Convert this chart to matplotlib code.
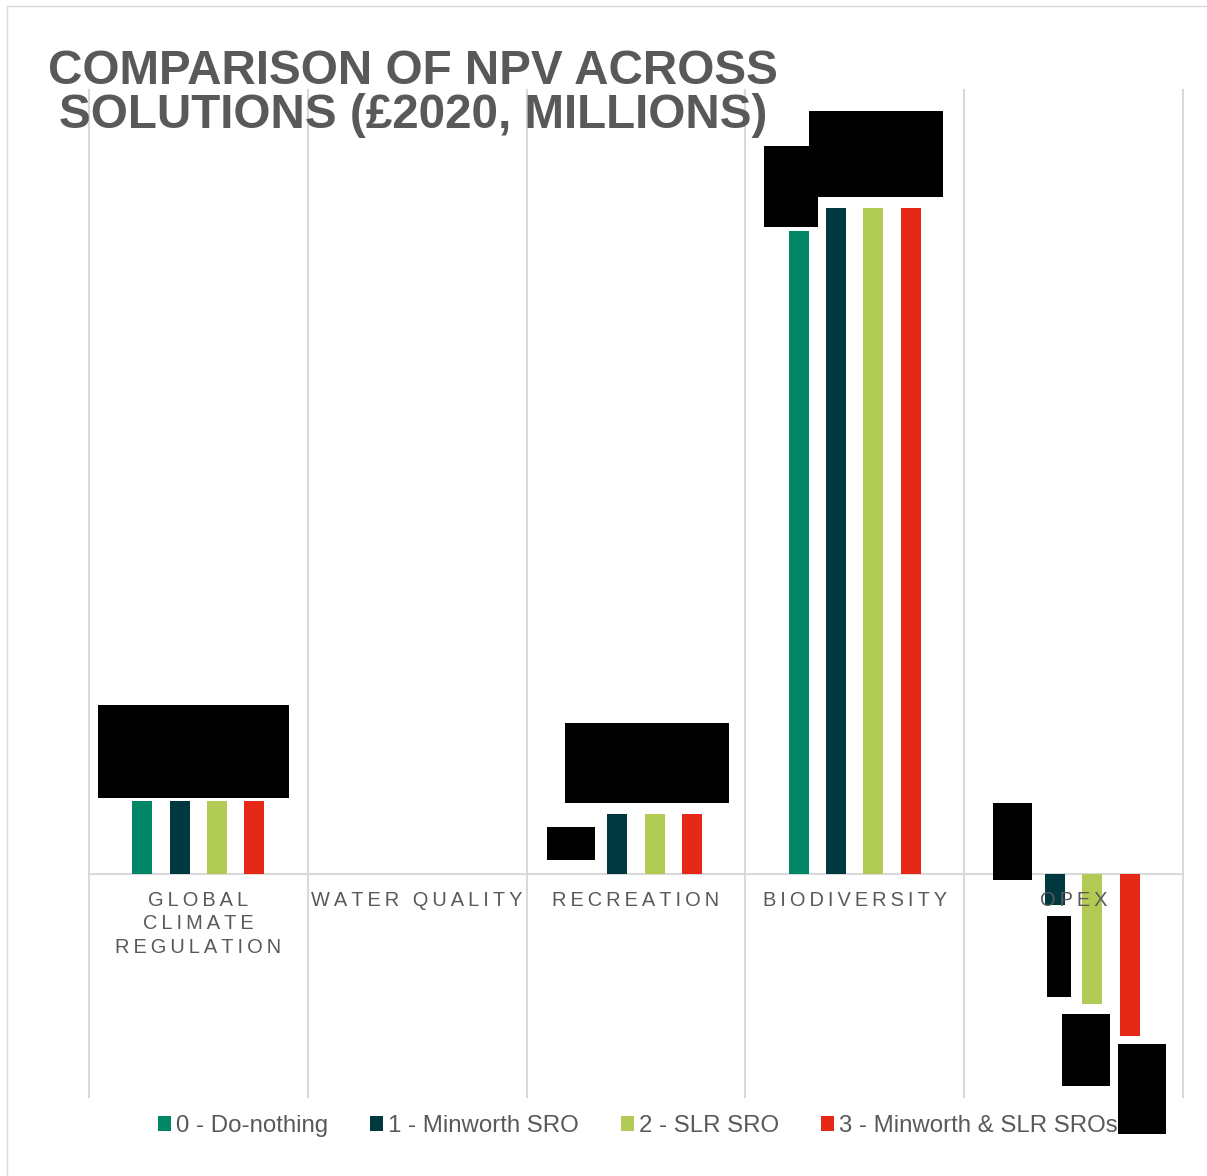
import matplotlib

matplotlib.use("Agg")
import matplotlib.pyplot as plt
import numpy as np
from matplotlib.lines import Line2D
from matplotlib.patches import Rectangle

plt.rcParams["font.family"] = ["Liberation Sans", "DejaVu Sans"]

# NPV by benefit/cost category (£2020, millions)
categories = ["GLOBAL\nCLIMATE\nREGULATION", "WATER QUALITY", "RECREATION", "BIODIVERSITY", "OPEX"]
series_names = ["0 - Do-nothing", "1 - Minworth SRO", "2 - SLR SRO", "3 - Minworth & SLR SROs"]
do_nothing = [7.3, 0.0, 0.0, 64.3, 0.0]
minworth = [7.3, 0.0, 6.0, 66.6, -3.1]
slr = [7.3, 0.0, 6.0, 66.6, -13.0]
minworth_slr = [7.3, 0.0, 6.0, 66.6, -16.2]
series_colors = ["#008768", "#003840", "#B2CB55", "#E52916"]

# blacked-out value labels: (x0, x1, y0, y1) in data units
label_boxes = [
    (-0.459, 0.414, 7.6, 16.9),
    (1.593, 1.813, 1.4, 4.7),
    (1.675, 2.425, 7.1, 15.1),
    (2.585, 2.832, 64.7, 72.8),
    (2.791, 3.403, 67.7, 76.3),
    (3.632, 3.810, -0.6, 7.1),
    (3.878, 3.988, -12.3, -4.2),
    (3.947, 4.166, -21.2, -14.0),
    (4.203, 4.422, -26.0, -17.0),
]

TEXT_GREY = "#595959"
GRID_GREY = "#D9D9D9"


def letter_spaced(text):
    # thin space after every character, line by line
    return "\n".join("\u2009".join(line) for line in text.split("\n"))


fig = plt.figure(figsize=(12.07, 11.76), dpi=100)
ax = fig.add_axes([0.0737, 0.0672, 0.9064, 0.8563])

x = np.arange(len(categories))
offsets = [-0.256, -0.0855, 0.0855, 0.256]
bar_width = 0.0914
all_series = [do_nothing, minworth, slr, minworth_slr]

for values, name, color, off in zip(all_series, series_names, series_colors, offsets):
    ax.bar(x + off, values, width=bar_width, color=color, label=name, zorder=2)

ax.set_xlim(-0.5, len(categories) - 0.5)
ax.set_ylim(-22.3, 78.4)
ax.axis("off")

# category dividers and zero line
for bx in np.arange(-0.5, len(categories), 1.0):
    ax.axvline(bx, color=GRID_GREY, lw=1.5, zorder=0, clip_on=False)
ax.axhline(0, color=GRID_GREY, lw=1.5, zorder=1, clip_on=False)

# category labels just under the zero line
for xi, cat in zip(x, categories):
    ax.annotate(letter_spaced(cat), xy=(xi, 0), xytext=(0, -17), textcoords="offset pixels",
                ha="center", va="top", fontsize=14.4, color=TEXT_GREY,
                multialignment="center", linespacing=1.3, zorder=3)

for x0, x1, y0, y1 in label_boxes:
    ax.add_patch(Rectangle((x0, y0), x1 - x0, y1 - y0, facecolor="black",
                           edgecolor="none", zorder=6, clip_on=False))

fig.text(413 / 1207, 1 - 49 / 1176, "COMPARISON OF NPV ACROSS\nSOLUTIONS (£2020, MILLIONS)",
         ha="center", va="top", fontsize=34.3, fontweight="bold", color=TEXT_GREY,
         linespacing=0.98, multialignment="center")

fig.legend(loc="center", bbox_to_anchor=(638 / 1207, 1 - 1126 / 1176), ncol=4, frameon=False,
           fontsize=17.3, handlelength=0.55, handleheight=0.55, handletextpad=0.2,
           columnspacing=1.75, labelcolor=TEXT_GREY)

# outer chart frame (only top and left edges fall inside the image)
fig.add_artist(Line2D([7 / 1207, 7 / 1207, 1.0], [0.0, 1 - 6 / 1176, 1 - 6 / 1176],
                      transform=fig.transFigure, color=GRID_GREY, lw=1.0))

fig.savefig("out.png", dpi=100)
plt.close(fig)
